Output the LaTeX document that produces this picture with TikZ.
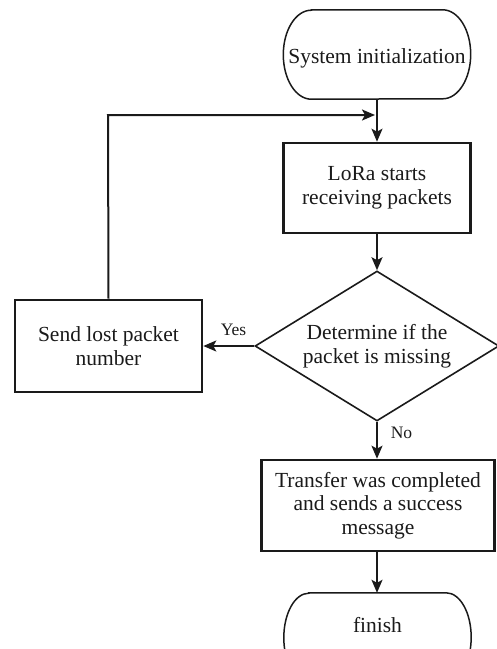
\documentclass[tikz,border=0pt]{standalone}
\usepackage{fontspec}
\setmainfont{Liberation Serif}
\usetikzlibrary{shapes.geometric,arrows.meta}
\definecolor{ink}{HTML}{1A1A1A}
\tikzset{
  base/.style={font=\fontsize{21.5}{23.5}\selectfont, text=ink, align=center, inner sep=0pt},
  procbox/.style={base, draw=ink, line width=2.6pt, rectangle},
  termbox/.style={base, rectangle, minimum width=187pt, minimum height=89pt},
  decbox/.style={base, draw=ink, line width=1.6pt, diamond, aspect=1.627, minimum width=244pt, minimum height=150pt},
  conn/.style={draw=ink, line width=2pt, -{Stealth[length=13pt,width=11pt,inset=3pt]}},
  lbl/.style={font=\fontsize{17.5}{19}\selectfont, text=ink, inner sep=0pt},
  termline/.style={draw=ink, line width=1.5pt}
}
\begin{document}
\begin{tikzpicture}[x=1pt,y=-1pt]
\useasboundingbox (0,0) rectangle (497,649);
\clip (0,0) rectangle (497,649);
% terminals
\node[termbox, text height=17pt, text depth=0pt] (start) at (377,54.5) {System initialization};
\draw[termline] ([xshift=28pt]start.north west) -- ([xshift=-28pt]start.north east)
  arc[start angle=90,end angle=-90,x radius=28pt,y radius=44.5pt]
  -- ([xshift=28pt]start.south west)
  arc[start angle=270,end angle=90,x radius=28pt,y radius=44.5pt] -- cycle;
\node[procbox, minimum width=187pt, minimum height=90pt] (lora) at (377,188) {LoRa starts\\receiving packets};
\node[decbox] (dec) at (377,346) {Determine if the\\packet is missing};
\node[procbox, minimum width=187pt, minimum height=92pt] (send) at (108.5,346) {Send lost packet\\number};
\node[procbox, minimum width=233pt, minimum height=91pt] (xfer) at (378,505.5) {Transfer was completed\\and sends a success\\message};
\node[termbox, text height=15pt, text depth=26pt] (finish) at (377.5,637.5) {finish};
\draw[termline] ([xshift=25pt]finish.north west) -- ([xshift=-25pt]finish.north east)
  arc[start angle=90,end angle=-90,x radius=25pt,y radius=44.5pt]
  -- ([xshift=25pt]finish.south west)
  arc[start angle=270,end angle=90,x radius=25pt,y radius=44.5pt] -- cycle;
% connectors
\coordinate (loopc) at (108,115);
\coordinate (join) at (375,115);
\draw[conn] (start.south) -- (lora.north);
\draw[conn] (lora.south) -- (dec.north);
\draw[conn] (dec.west) -- (send.east);
\draw[conn] (send.north) -- (loopc) -- (join);
\draw[conn] (dec.south) -- (dec.south |- xfer.north);
\draw[conn] (xfer.south -| dec.south) -- (dec.south |- finish.north);
% labels
\node[lbl] (yes) at (233.5,330) {Yes};
\node[lbl] (no) at (401.5,433) {No};
\end{tikzpicture}
\end{document}
